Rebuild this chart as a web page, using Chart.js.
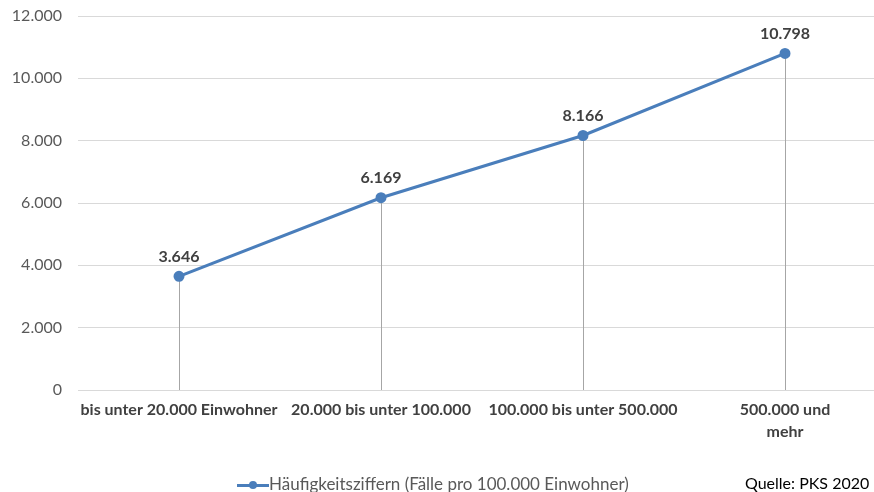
<!DOCTYPE html>
<html>
<head>
<meta charset="utf-8">
<script src="https://cdn.jsdelivr.net/npm/chart.js@4.4.1/dist/chart.umd.min.js"></script>
<style>
  html, body { margin: 0; padding: 0; background: #fff; overflow: hidden; }
  #wrap { position: relative; width: 874px; height: 492px; overflow: hidden; }
  #box { position: absolute; left: 0; top: 0; width: 893px; height: 492px; }
  #legend { position: absolute; left: 237px; top: 473px; font: 17px Lato, "Open Sans", sans-serif; color: #595959; white-space: nowrap; }
  #legend .mark { display: inline-block; position: relative; width: 32px; height: 12px; vertical-align: -1px; }
  #legend .mark:before { content: ""; position: absolute; left: 0; right: 0; top: 5px; height: 3px; background: #4a7ebb; }
  #legend .mark:after { content: ""; position: absolute; left: 12px; top: 2px; width: 8px; height: 8px; border-radius: 50%; background: #4a7ebb; }
  #source { position: absolute; left: 745px; top: 473px; font: 16px Lato, "Open Sans", sans-serif; color: #000; white-space: nowrap; }
</style>
</head>
<body>
<div id="wrap">
  <div id="box"><canvas id="chart"></canvas></div>
  <div id="legend"><span class="mark"></span>Häufigkeitsziffern (Fälle pro 100.000 Einwohner)</div>
  <div id="source">Quelle: PKS 2020</div>
</div>
<script>
const categories = [
    'bis unter 20.000 Einwohner',
    '20.000 bis unter 100.000',
    '100.000 bis unter 500.000',
    ['500.000 und', 'mehr']
];
const seriesName = 'Häufigkeitsziffern (Fälle pro 100.000 Einwohner)';
const values = [3646, 6169, 8166, 10798];
const yTicks = [0, 2000, 4000, 6000, 8000, 10000, 12000];

const FONT = 'Lato, "Open Sans", sans-serif';
const fmt = v => v.toLocaleString('de-DE');

// Drop lines from each point to the axis, and bold value labels above
const dropLabels = {
    id: 'dropLabels',
    beforeDatasetsDraw(chart) {
        const ctx = chart.ctx;
        const meta = chart.getDatasetMeta(0);
        const bottom = chart.chartArea.bottom;
        ctx.save();
        ctx.strokeStyle = '#a6a6a6';
        ctx.lineWidth = 1;
        meta.data.forEach(pt => {
            const x = Math.round(pt.x) + 0.5;
            ctx.beginPath();
            ctx.moveTo(x, pt.y);
            ctx.lineTo(x, bottom);
            ctx.stroke();
        });
        ctx.restore();
    },
    afterDatasetsDraw(chart) {
        const ctx = chart.ctx;
        const meta = chart.getDatasetMeta(0);
        ctx.save();
        ctx.font = 'bold 16px ' + FONT;
        ctx.fillStyle = '#404040';
        ctx.textAlign = 'center';
        ctx.textBaseline = 'middle';
        meta.data.forEach((pt, i) => {
            ctx.fillText(fmt(values[i]), pt.x, pt.y - 20);
        });
        ctx.restore();
    }
};

new Chart(document.getElementById('chart'), {
    type: 'line',
    data: {
        labels: categories,
        datasets: [{
            label: seriesName,
            data: values,
            borderColor: '#4a7ebb',
            backgroundColor: '#4a7ebb',
            borderWidth: 3,
            pointRadius: 4,
            pointHoverRadius: 4,
            tension: 0
        }]
    },
    options: {
        responsive: true,
        maintainAspectRatio: false,
        animation: false,
        layout: { padding: { top: 16, right: 0, left: 0, bottom: 0 } },
        plugins: {
            legend: { display: false },
            tooltip: { enabled: false }
        },
        scales: {
            x: {
                offset: true,
                grid: { display: false, drawTicks: false },
                border: { display: true, color: '#d9d9d9', width: 1 },
                ticks: {
                    color: '#404040',
                    font: { family: FONT, size: 16, weight: 'bold', lineHeight: 1.35 },
                    padding: 9,
                    maxRotation: 0,
                    autoSkip: false
                },
                afterFit: scale => {
                    scale.height = 102;
                    scale.paddingLeft = 0;
                    scale.paddingRight = 0;
                }
            },
            y: {
                min: 0,
                max: 12000,
                afterBuildTicks: scale => { scale.ticks = yTicks.map(v => ({ value: v })); },
                grid: { color: '#d9d9d9', drawTicks: false },
                border: { display: false },
                ticks: {
                    color: '#595959',
                    font: { family: FONT, size: 16 },
                    padding: 16,
                    callback: v => fmt(v)
                },
                afterFit: scale => {
                    scale.width = 78;
                    scale.paddingTop = 0;
                    scale.paddingBottom = 0;
                }
            }
        }
    },
    plugins: [dropLabels]
});
</script>
</body>
</html>
